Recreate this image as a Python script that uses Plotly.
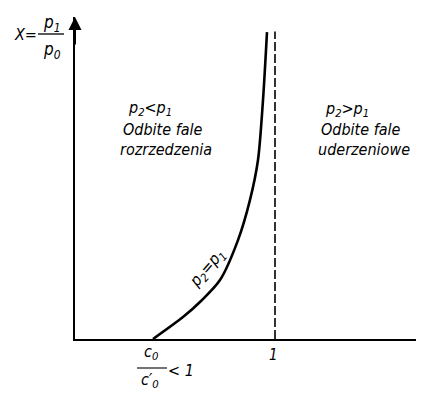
import plotly.graph_objects as go

# ---- data ----
curve_x = [0.39, 0.54, 0.63, 0.725, 0.815, 0.875, 0.915, 0.94, 0.96]   # c0/c0' towards 1
curve_y = [0.0, 0.68, 1.18, 1.83, 3.07, 4.32, 5.56, 7.42, 9.53]       # x = p1/p0 (arbitrary units)
limit_x = [1.0, 1.0]          # dashed limit at c0/c0' = 1
limit_y = [0.0, 9.55]
x_range = [0, 1.745]
y_range = [0, 10]

# page has an 8px body margin -> compensate
OFF = 8
W, H = 424 - OFF, 393 - OFF
L, R, T, B = 75 - OFF, 0, 17 - OFF, 54
PW, PH = W - L - R, H - T - B

FONT = "Liberation Sans Narrow, DejaVu Sans Condensed, DejaVu Sans, sans-serif"

def px(xp):
    return (xp - OFF - L) / PW

def py(yp):
    return (H - B - (yp - OFF)) / PH

fig = go.Figure()

fig.add_trace(go.Scatter(x=curve_x, y=curve_y, mode="lines",
                         line=dict(color="black", width=2.6, shape="spline", smoothing=0.8),
                         hoverinfo="skip", showlegend=False))
fig.add_trace(go.Scatter(x=limit_x, y=limit_y, mode="lines",
                         line=dict(color="black", width=1.6, dash="9px,3px"),
                         hoverinfo="skip", showlegend=False))

ann = []

def txt(s, xp, yp, size=15, xanchor="center", angle=0):
    ann.append(dict(text=s, x=px(xp), y=py(yp), xref="paper", yref="paper",
                    xanchor=xanchor, yanchor="middle", showarrow=False,
                    textangle=angle,
                    font=dict(family=FONT, size=size, color="black")))

# arrow on y axis
ann.append(dict(x=0, y=y_range[1], ax=0, ay=y_range[1] - 0.9, xref="x", yref="y",
                axref="x", ayref="y", text="", showarrow=True, arrowhead=2,
                arrowsize=1.3, arrowwidth=2, arrowcolor="black"))

# y-axis label x = p1/p0
txt("<i>X=</i>", 25, 34, size=16)
txt("<i>p<sub>1</sub></i>", 52, 23, size=17)
txt("<i>p<sub>0</sub></i>", 52, 51, size=17)

# region labels
txt("<i>p<sub>2</sub><p<sub>1</sub></i>", 126, 108, size=16, xanchor="left")
txt("<i>Odbite fale</i>", 121, 129, size=16, xanchor="left")
txt("<i>rozrzedzenia</i>", 118, 150, size=16, xanchor="left")

txt("<i>p<sub>2</sub>>p<sub>1</sub></i>", 323, 109, size=16, xanchor="left")
txt("<i>Odbite fale</i>", 319, 129, size=16, xanchor="left")
txt("<i>uderzeniowe</i>", 316, 150, size=16, xanchor="left")

# curve label
txt("<i>p<sub>2</sub>=p<sub>1</sub></i>", 207, 268, size=16, angle=-49)

# x tick labels
txt("<i>1</i>", 273, 355, size=15)
txt("<i>c<sub>0</sub></i>", 151, 352, size=16)
txt("<i>c′<sub>0</sub></i>", 150, 380, size=16)
txt("<i>< 1</i>", 181, 370, size=16)

fig.update_layout(annotations=ann)

shapes = [
    dict(type="line", xref="paper", yref="paper", x0=px(38), x1=px(64), y0=py(34), y1=py(34),
         line=dict(color="black", width=1.3)),
    dict(type="line", xref="paper", yref="paper", x0=px(137), x1=px(167), y0=py(368), y1=py(368),
         line=dict(color="black", width=1.1)),
]
fig.update_layout(shapes=shapes)

axis_common = dict(showgrid=False, zeroline=False, showticklabels=False, ticks="",
                   showline=True, linecolor="black", linewidth=2, fixedrange=True)
fig.update_xaxes(range=x_range, **axis_common)
fig.update_yaxes(range=y_range, **axis_common)

fig.update_layout(width=W, height=H, margin=dict(l=L, r=R, t=T, b=B, pad=0),
                  plot_bgcolor="white", paper_bgcolor="white", showlegend=False)

fig.write_html("out.html")
